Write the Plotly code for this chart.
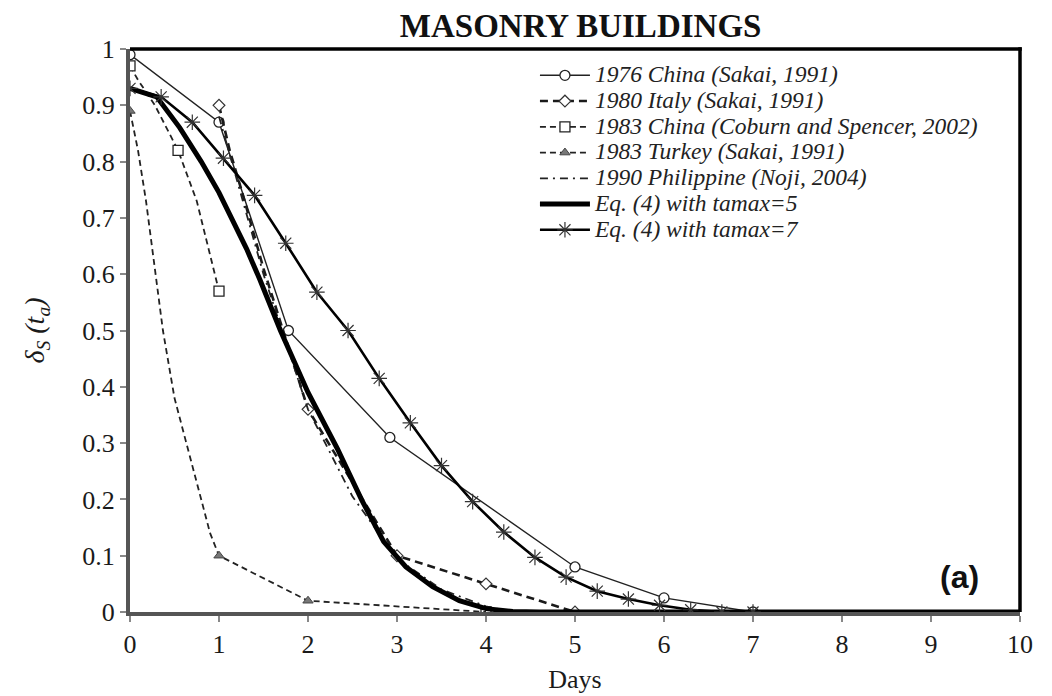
import plotly.graph_objects as go

# ---------------- data ----------------
china76_x = [0, 1, 1.78, 2.92, 5, 6, 7]
china76_y = [0.99, 0.87, 0.50, 0.31, 0.08, 0.025, 0]

italy_x = [1, 1.12, 1.27, 1.5, 2, 3, 4, 5]
italy_y = [0.90, 0.82, 0.74, 0.61, 0.36, 0.10, 0.05, 0]
italy_marker = [True, False, False, False, True, True, True, True]

coburn_x = [0, 0.09, 0.28, 0.54, 0.75, 1, None, 4]
coburn_y = [0.97, 0.945, 0.90, 0.82, 0.73, 0.57, None, 0]
coburn_marker = [True, False, False, True, False, True, False, True]

turkey_x = [0, 0.09, 0.18, 0.28, 0.37, 0.5, 0.7, 0.9, 1, 2, 4]
turkey_y = [0.89, 0.82, 0.73, 0.61, 0.50, 0.38, 0.26, 0.14, 0.10, 0.02, 0]
turkey_marker = [True, False, False, False, False, False, False, False, True, True, False]

phil_x = [1, 1.25, 1.5, 2, 2.5, 3, 3.5, 4, 4.3]
phil_y = [0.88, 0.74, 0.60, 0.36, 0.205, 0.095, 0.04, 0.01, 0]

eq5_x = [0, 0.3, 0.56, 0.8, 1.0, 1.31, 1.46, 1.69, 2.0, 2.33, 2.6, 2.85, 3.1, 3.4, 3.7, 4.0, 4.3, 4.6, 10]
eq5_y = [0.93, 0.915, 0.86, 0.80, 0.745, 0.645, 0.59, 0.50, 0.39, 0.29, 0.20, 0.125, 0.08, 0.045, 0.02, 0.006, 0.001, 0, 0]

eq7_x = [0, 0.35, 0.7, 1.05, 1.4, 1.75, 2.1, 2.45, 2.8, 3.15, 3.5, 3.85, 4.2, 4.55, 4.9,
         5.25, 5.6, 5.95, 6.3, 6.65, 7]
eq7_y = [0.93, 0.915, 0.87, 0.806, 0.74, 0.655, 0.568, 0.50, 0.415, 0.336, 0.26, 0.196,
         0.142, 0.097, 0.062, 0.037, 0.023, 0.012, 0.004, 0.0, 0.0]

x_ticks = list(range(0, 11))
y_ticks = [round(i * 0.1, 1) for i in range(11)]
y_ticklabels = ["0", "0.1", "0.2", "0.3", "0.4", "0.5", "0.6", "0.7", "0.8", "0.9", "1"]

series_labels = [
    "1976 China (Sakai, 1991)",
    "1980 Italy (Sakai, 1991)",
    "1983 China (Coburn and Spencer, 2002)",
    "1983 Turkey (Sakai, 1991)",
    "1990 Philippine (Noji, 2004)",
    "Eq. (4) with tamax=5",
    "Eq. (4) with tamax=7",
]
names = ['<span style="font-size:23.5px"><i>%s</i></span>' % s for s in series_labels]

CLEAR = "rgba(0,0,0,0)"


def colors(flags, c):
    return [c if f else CLEAR for f in flags]


fig = go.Figure()

fig.add_trace(go.Scatter(
    x=china76_x, y=china76_y, name=names[0], mode="lines+markers",
    line=dict(color="#222222", width=1.4),
    marker=dict(symbol="circle", size=10, color="white", line=dict(color="#222222", width=1.3)),
))
fig.add_trace(go.Scatter(
    x=italy_x, y=italy_y, name=names[1], mode="lines+markers",
    line=dict(color="#1a1a1a", width=2.6, dash="8px,5px"),
    marker=dict(symbol="diamond", size=9, color=colors(italy_marker, "white"),
                line=dict(color=colors(italy_marker, "#333333"), width=1.2)),
))
fig.add_trace(go.Scatter(
    x=coburn_x, y=coburn_y, name=names[2], mode="lines+markers", connectgaps=False,
    line=dict(color="#222222", width=1.8, dash="6px,4px"),
    marker=dict(symbol="square", size=10, color=colors(coburn_marker, "white"),
                line=dict(color=colors(coburn_marker, "#222222"), width=1.3)),
))
fig.add_trace(go.Scatter(
    x=turkey_x, y=turkey_y, name=names[3], mode="lines+markers",
    line=dict(color="#222222", width=1.8, dash="6px,4px"),
    marker=dict(symbol="triangle-up", size=9, color=colors(turkey_marker, "#777777"),
                line=dict(color=colors(turkey_marker, "#444444"), width=1)),
))
fig.add_trace(go.Scatter(
    x=phil_x, y=phil_y, name=names[4], mode="lines",
    line=dict(color="#222222", width=1.8, dash="8px,5px,2px,5px"),
))
fig.add_trace(go.Scatter(
    x=eq5_x, y=eq5_y, name=names[5], mode="lines",
    line=dict(color="black", width=5),
))
fig.add_trace(go.Scatter(
    x=eq7_x, y=eq7_y, name=names[6], mode="lines+markers",
    line=dict(color="black", width=2.6),
    marker=dict(symbol="asterisk-open", size=13, color="#333333", line=dict(color="#333333", width=1.2)),
))

serif = "Liberation Serif, Times New Roman, serif"

fig.update_layout(
    width=1044, height=688,
    margin=dict(l=122, r=32, t=41, b=84, autoexpand=False),
    paper_bgcolor="white", plot_bgcolor="white",
    font=dict(family=serif, color="#222222", size=24),
    title=dict(text="<b>MASONRY BUILDINGS</b>", x=0.5485, xanchor="center", y=0.975, yanchor="middle",
               font=dict(family=serif, size=33, color="#111111")),
    showlegend=True,
    legend=dict(x=0.455, y=0.985, xanchor="left", yanchor="top", bgcolor="rgba(0,0,0,0)",
                font=dict(family=serif, size=17.5, color="#222222"), itemwidth=50,
                tracegroupgap=0),
    xaxis=dict(range=[0, 10], tickvals=x_ticks, showgrid=False, zeroline=False,
               showline=True, linecolor="#555555", linewidth=4,
               ticks="outside", ticklen=6, tickwidth=1.5, tickcolor="#888888",
               tickfont=dict(family=serif, size=26, color="#1a1a1a"),
               title=dict(text="Days", font=dict(family=serif, size=26, color="#1a1a1a"), standoff=13)),
    yaxis=dict(range=[0, 1], tickvals=y_ticks, ticktext=y_ticklabels, showgrid=False, zeroline=False,
               showline=True, linecolor="#555555", linewidth=4,
               ticks="outside", ticklen=6, tickwidth=1.5, tickcolor="#888888",
               tickfont=dict(family=serif, size=26, color="#1a1a1a"),
               title=dict(text="<i>δ<sub>S</sub> (t<sub>a</sub>)</i>",
                          font=dict(family=serif, size=28, color="#1a1a1a"), standoff=30)),
    shapes=[
        dict(type="line", xref="paper", yref="paper", x0=0, x1=1.002, y0=1, y1=1,
             line=dict(color="black", width=3.5)),
        dict(type="line", xref="paper", yref="paper", x0=1, x1=1, y0=0, y1=1.003,
             line=dict(color="black", width=3.5)),
    ],
    annotations=[
        dict(text="<b>(a)</b>", xref="paper", yref="paper", x=0.932, y=0.062,
             xanchor="center", yanchor="middle", showarrow=False,
             font=dict(family="Liberation Sans, Arial, sans-serif", size=32, color="#111111")),
    ],
)

fig.write_html("out.html")
